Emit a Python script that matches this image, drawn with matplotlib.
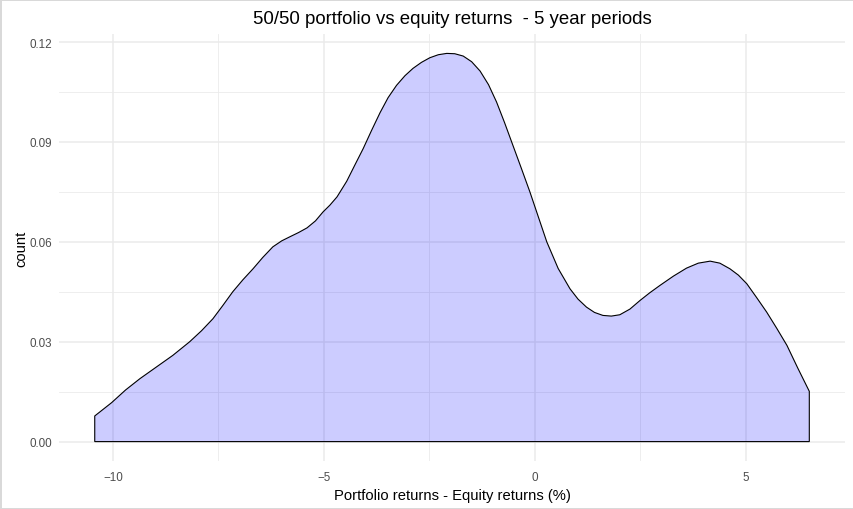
#!/usr/bin/env python3
"""Density of 50/50 portfolio minus equity returns over 5 year periods."""

import matplotlib

matplotlib.use("Agg")
import matplotlib.pyplot as plt
from matplotlib.ticker import MultipleLocator


# density curve (x in %, y = density)
RETURN_DIFF = [
    -10.43, -10.03, -9.70, -9.36, -8.97, -8.58, -8.18, -7.90, -7.63, -7.40,
    -7.16, -6.92, -6.68, -6.45, -6.21, -6.00, -5.81, -5.60, -5.40, -5.20,
    -5.02, -4.86, -4.69, -4.46, -4.27, -4.07, -3.87, -3.67, -3.48, -3.28,
    -3.08, -2.89, -2.69, -2.49, -2.29, -2.09, -1.90, -1.70, -1.50, -1.30,
    -1.10, -0.91, -0.72, -0.52, -0.32, -0.12, 0.08, 0.28, 0.55, 0.83,
    1.02, 1.22, 1.41, 1.61, 1.81, 2.01, 2.25, 2.49, 2.72, 2.96,
    3.28, 3.59, 3.87, 4.15, 4.38, 4.62, 4.82, 5.02, 5.25, 5.49,
    5.73, 5.97, 6.23, 6.50,
]
DENSITY = [
    0.0077, 0.0117, 0.0155, 0.0189, 0.0224, 0.0259, 0.0300, 0.0333, 0.0369, 0.0408,
    0.0450, 0.0486, 0.0519, 0.0553, 0.0585, 0.0603, 0.0615, 0.0628, 0.0642, 0.0663,
    0.0690, 0.0710, 0.0735, 0.0782, 0.0830, 0.0880, 0.0935, 0.0988, 0.1033, 0.1070,
    0.1099, 0.1121, 0.1139, 0.1153, 0.1162, 0.1166, 0.1165, 0.1158, 0.1141, 0.1113,
    0.1072, 0.1020, 0.0958, 0.0889, 0.0820, 0.0750, 0.0675, 0.0600, 0.0520, 0.0459,
    0.0428, 0.0404, 0.0388, 0.0379, 0.0377, 0.0381, 0.0398, 0.0424, 0.0447, 0.0469,
    0.0497, 0.0521, 0.0536, 0.0542, 0.0536, 0.0519, 0.0500, 0.0474, 0.0433, 0.0389,
    0.0340, 0.0289, 0.0220, 0.0151,
]
X_TICKS = [-10, -5, 0, 5]
Y_TICKS = [0.00, 0.03, 0.06, 0.09, 0.12]

TITLE = "50/50 portfolio vs equity returns  - 5 year periods"
X_LABEL = "Portfolio returns - Equity returns (%)"
Y_LABEL = "count"

GRID_COLOR = "#ebebeb"
TEXT_GREY = "#4d4d4d"


def expanded(lo: float, hi: float, frac: float = 0.05) -> tuple:
    pad = (hi - lo) * frac
    return lo - pad, hi + pad


def main() -> None:
    plt.rcParams["font.family"] = ["Liberation Sans", "DejaVu Sans"]

    fig = plt.figure(figsize=(8.54, 5.10), dpi=100, edgecolor="#d9d9d9", linewidth=2)
    ax = fig.add_axes([0.0691, 0.0941, 0.9204, 0.8373])

    # closed polygon like geom_density: baseline + vertical ends
    xs = [RETURN_DIFF[0]] + RETURN_DIFF + [RETURN_DIFF[-1]]
    ys = [0.0] + DENSITY + [0.0]
    ax.fill(xs, ys, facecolor="blue", alpha=0.2, edgecolor="none", zorder=2)
    ax.fill(xs, ys, facecolor="none", edgecolor="black", linewidth=0.8, zorder=3)

    ax.set_xlim(*expanded(min(RETURN_DIFF), max(RETURN_DIFF)))
    ax.set_ylim(*expanded(0.0, max(DENSITY)))

    ax.set_xticks(X_TICKS)
    ax.set_yticks(Y_TICKS)
    ax.set_yticklabels([f"{v:.2f}" for v in Y_TICKS])
    ax.xaxis.set_minor_locator(MultipleLocator(2.5))
    ax.yaxis.set_minor_locator(MultipleLocator(0.015))

    ax.grid(True, which="major", color=GRID_COLOR, linewidth=1.1, zorder=0)
    ax.grid(True, which="minor", color=GRID_COLOR, linewidth=0.6, zorder=0)
    ax.set_axisbelow(True)
    for spine in ax.spines.values():
        spine.set_visible(False)

    ax.tick_params(which="both", length=0)
    ax.tick_params(axis="x", labelsize=8.4, labelcolor=TEXT_GREY, pad=7)
    ax.tick_params(axis="y", labelsize=8.4, labelcolor=TEXT_GREY, pad=5)

    ax.set_title(TITLE, fontsize=13.4, color="black", pad=8)
    ax.set_xlabel(X_LABEL, fontsize=10.6, color="black", labelpad=4)
    ax.set_ylabel(Y_LABEL, fontsize=10.6, color="black", labelpad=1)

    fig.savefig("out.png", dpi=100)
    plt.close(fig)


if __name__ == "__main__":
    main()
